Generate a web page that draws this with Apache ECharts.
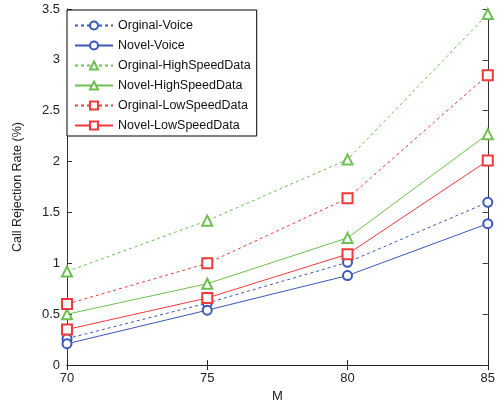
<!DOCTYPE html>
<html><head><meta charset="utf-8">
<script src="https://cdn.jsdelivr.net/npm/echarts@6/dist/echarts.min.js"></script>
<style>html,body{margin:0;padding:0;background:#fff}#c{width:498px;height:408px}</style>
</head><body><div id="c"></div>
<script>
const M = [70, 75, 80, 85];
const orginalVoice = [0.26, 0.61, 1.01, 1.60];
const novelVoice = [0.21, 0.54, 0.88, 1.39];
const orginalHigh = [0.92, 1.42, 2.02, 3.45];
const novelHigh = [0.50, 0.80, 1.25, 2.27];
const orginalLow = [0.60, 1.00, 1.64, 2.85];
const novelLow = [0.35, 0.66, 1.09, 2.01];
const yTicks = ['0','0.5','1','1.5','2','2.5','3','3.5'];

const BLUE = '#3a58b8', GREEN = '#6cc050', RED = '#f03a3a';
function mk(name, vals, color, dashed, symbol) {
  return {
    name, type: 'line', data: M.map((m, i) => [m, vals[i]]),
    symbol, symbolSize: symbol === 'emptyCircle' ? 9 : 10,
    lineStyle: { color, width: 1, type: dashed ? [3, 3] : 'solid' },
    itemStyle: { color, borderColor: color, borderWidth: 1 },
    emphasis: { disabled: true }, animation: false
  };
}
const axisFont = { fontFamily: 'Liberation Sans', fontSize: 13, color: '#222' };
const chart = echarts.init(document.getElementById('c'));
chart.setOption({
  backgroundColor: '#fff',
  animation: false,
  grid: { left: 67, right: 3, top: 9, bottom: 38, show: false },
  legend: {
    orient: 'vertical', left: 67, top: 10,
    itemWidth: 38, itemHeight: 10, itemGap: 7,
    padding: [9, 6, 4, 7],
    borderColor: '#000', borderWidth: 1, backgroundColor: '#fff',
    textStyle: { fontFamily: 'Liberation Sans', fontSize: 12.5, color: '#111' },
    data: ['Orginal-Voice','Novel-Voice','Orginal-HighSpeedData','Novel-HighSpeedData','Orginal-LowSpeedData','Novel-LowSpeedData']
  },
  xAxis: [
    { type: 'value', min: 70, max: 85, interval: 5, position: 'bottom',
      name: 'M', nameLocation: 'middle', nameGap: 24,
      nameTextStyle: { fontFamily: 'Liberation Sans', fontSize: 13, color: '#222' },
      axisLine: { lineStyle: { color: '#222' } },
      axisTick: { inside: true, length: 5, lineStyle: { color: '#222' } },
      axisLabel: Object.assign({ margin: 7, formatter: v => String(M[M.indexOf(v)]) }, axisFont),
      splitLine: { show: false } },
    { type: 'value', min: 70, max: 85, interval: 5, position: 'top',
      axisLine: { lineStyle: { color: '#222' } },
      axisTick: { inside: true, length: 5, lineStyle: { color: '#222' } },
      axisLabel: { show: false }, splitLine: { show: false } }
  ],
  yAxis: [
    { type: 'value', min: 0, max: 3.5, interval: 0.5, position: 'left',
      name: 'Call Rejection Rate (%)', nameLocation: 'middle', nameGap: 43, nameRotate: 90,
      nameTextStyle: { fontFamily: 'Liberation Sans', fontSize: 12.5, color: '#222' },
      axisLine: { show: true, lineStyle: { color: '#333' } },
      axisTick: { show: true, inside: true, length: 5, lineStyle: { color: '#333' } },
      axisLabel: Object.assign({ margin: 7, formatter: v => yTicks[Math.round(v * 2)] }, axisFont),
      splitLine: { show: false } },
    { type: 'value', min: 0, max: 3.5, interval: 0.5, position: 'right',
      axisLine: { show: true, lineStyle: { color: '#333' } },
      axisTick: { show: true, inside: true, length: 5, lineStyle: { color: '#333' } },
      axisLabel: { show: false }, splitLine: { show: false } }
  ],
  series: [
    mk('Orginal-Voice', orginalVoice, BLUE, true, 'emptyCircle'),
    mk('Novel-Voice', novelVoice, BLUE, false, 'emptyCircle'),
    mk('Orginal-HighSpeedData', orginalHigh, GREEN, true, 'emptyTriangle'),
    mk('Novel-HighSpeedData', novelHigh, GREEN, false, 'emptyTriangle'),
    mk('Orginal-LowSpeedData', orginalLow, RED, true, 'emptyRect'),
    mk('Novel-LowSpeedData', novelLow, RED, false, 'emptyRect')
  ]
});
</script></body></html>
